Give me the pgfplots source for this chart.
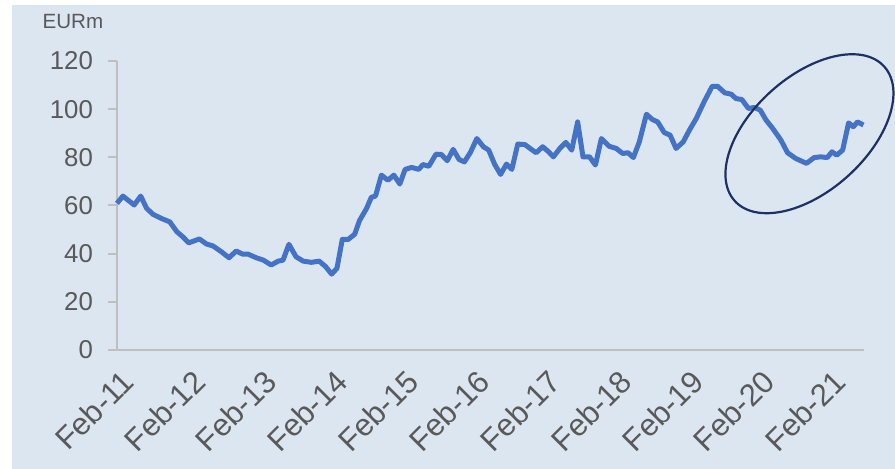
\documentclass[border=0pt]{standalone}
\usepackage{pgfplots}
\pgfplotsset{compat=1.18}
\usepackage{fontspec}
\setmainfont{Liberation Sans}
\definecolor{bgpanel}{RGB}{220,230,241}
\definecolor{txtgray}{RGB}{89,89,89}
\definecolor{axgray}{RGB}{191,191,191}
\definecolor{lineblue}{RGB}{68,114,196}
\definecolor{navy}{RGB}{31,48,100}

\begin{document}
\begin{tikzpicture}
% frame: 1 px of the reference = 0.5pt, axis origin at px (117,350)
\path[use as bounding box] (-58.5pt,-59.5pt) rectangle (389pt,175pt);
\fill[bgpanel] (-52.5pt,-59.5pt) rectangle (389pt,172.5pt);
\begin{axis}[
  scale only axis,
  width=373.5pt, height=144.5pt,
  xmin=0, xmax=126,
  ymin=0, ymax=120,
  axis lines=left,
  axis line style={axgray, line width=1pt, -},
  xtick={0,12,...,120},
  xticklabels={Feb-11,Feb-12,Feb-13,Feb-14,Feb-15,Feb-16,Feb-17,Feb-18,Feb-19,Feb-20,Feb-21},
  ytick={0,20,...,120},
  x tick style={draw=none},
  y tick style={axgray, line width=1pt},
  major tick length=4.5pt,
  tick align=outside,
  tick label style={font=\fontsize{12.9}{14}\selectfont, text=txtgray},
  xticklabel style={rotate=45, anchor=east, font=\fontsize{15.5}{17}\selectfont, yshift=-10pt, xshift=1.5pt},
  yticklabel style={xshift=-4pt},
  /pgf/number format/assume math mode=true,
  clip=false,
]
\addplot[lineblue, line width=2.5pt, line join=round] coordinates {
(0,60.9) (1,63.9) (2.9,60.2) (4,63.9) (5,58.8) (6.1,56.3) (7.5,54.6) (8.9,53.2)
(10.1,49.1) (11.1,47.0) (12.1,44.5) (13.9,46.1) (15.1,44.0) (16.2,43.2) (17.6,40.8)
(18.9,38.3) (20.1,41.1) (21.2,39.8) (22.1,39.8) (23.5,38.3) (24.7,37.3) (26,35.3)
(27.2,36.9) (28.0,37.3) (29.0,43.9) (30.2,38.7) (31.4,36.9) (32.8,36.4) (34.1,36.9)
(35.2,34.6) (36.2,31.5) (37.1,33.9) (38.0,45.9) (39.0,45.9) (40.1,48.1) (40.9,53.7)
(42.1,58.8) (42.9,63.4) (43.6,63.9) (44.6,72.6) (45.7,70.5) (46.7,72.6) (47.7,68.9)
(48.6,75.0) (49.7,75.8) (50.9,75.0) (51.6,77.0) (52.6,76.3) (53.8,81.3) (54.7,81.2)
(55.7,78.6) (56.7,83.3) (57.7,79.1) (58.6,78.1) (59.6,82.0) (60.7,87.8) (61.8,84.4)
(62.7,83.0) (63.7,77.1) (64.7,72.9) (65.7,77.2) (66.6,75.0) (67.6,85.5) (68.8,85.3)
(69.9,83.3) (70.7,81.9) (71.8,84.4) (72.8,82.3) (73.6,80.2) (74.7,83.7) (75.7,86.2)
(76.7,83.0) (77.7,94.7) (78.6,80.2) (79.7,80.2) (80.7,76.8) (81.7,87.8) (83.0,84.6)
(84.2,83.7) (85.3,81.6) (86.2,81.9) (87.1,79.9) (88.1,86.4) (89.3,97.9) (90.3,95.7)
(91.2,94.7) (92.3,90.3) (93.3,89.2) (94.3,83.7) (95.5,86.4) (96.6,91.5) (97.7,96.1)
(99.1,103.4) (100.4,109.5) (101.3,109.5) (102.5,106.8) (103.6,106.2) (104.4,104.4)
(105.4,104.0) (106.5,100.3) (107.5,100.7) (108.5,99.6) (109.5,95.4) (110.6,92.0)
(112.0,87.1) (113.1,81.9) (114.5,79.5) (116.3,77.5) (117.6,79.9) (118.7,80.2)
(119.8,79.9) (120.6,82.3) (121.4,80.9) (122.4,83.0) (123.4,94.3) (124.2,92.7)
(124.9,94.7) (125.9,93.4)
};
\draw[navy, line width=1.1pt, rotate around={41.9:(axis cs:116.8,89.8)}]
  (axis cs:116.8,89.8) ellipse [x radius=50.25pt, y radius=28.6pt];
\node[font=\fontsize{10.3}{12}\selectfont, text=txtgray] at (axis description cs:-0.059,1.136) {EURm};
\end{axis}
\end{tikzpicture}
\end{document}
